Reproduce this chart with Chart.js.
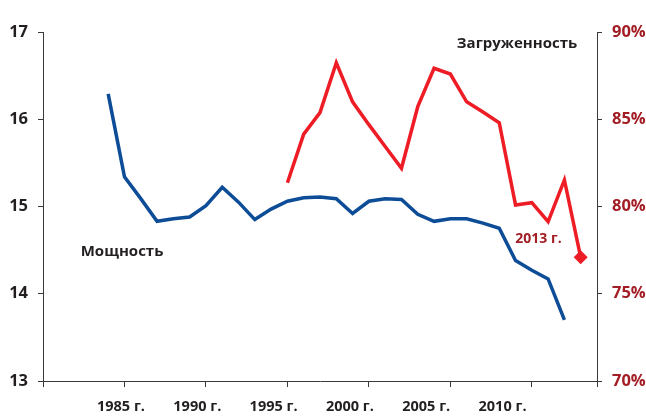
<!DOCTYPE html>
<html>
<head>
<meta charset="utf-8">
<script src="https://cdn.jsdelivr.net/npm/chart.js@4"></script>
<style>
  html, body { margin: 0; padding: 0; background: #ffffff; }
  canvas { display: block; }
</style>
</head>
<body>
<canvas id="c" width="646" height="417"></canvas>
<script>
// ---- Data ----
const powerYears = [1984,1985,1986,1987,1988,1989,1990,1991,1992,1993,1994,1995,1996,1997,1998,1999,2000,2001,2002,2003,2004,2005,2006,2007,2008,2009,2010,2011,2012];
const powerValues = [16.29,15.34,15.09,14.83,14.86,14.88,15.01,15.22,15.05,14.85,14.97,15.06,15.10,15.11,15.09,14.92,15.06,15.09,15.08,14.91,14.83,14.86,14.86,14.81,14.75,14.38,14.27,14.17,13.70];

const loadYears = [1995,1996,1997,1998,1999,2000,2001,2002,2003,2004,2005,2006,2007,2008,2009,2010,2011,2012,2013];
const loadValues = [81.36,84.15,85.38,88.24,86.0,84.69,83.44,82.19,85.72,87.92,87.59,86.0,85.42,84.8,80.09,80.22,79.13,81.52,77.09];

const tickYears = [1980,1985,1990,1995,2000,2005,2010,2014];
const labelYears = [1985,1990,1995,2000,2005,2010];
const leftTicks = [13,14,15,16,17];
const rightTicks = [70,75,80,85,90];

const seriesNames = { power: 'Мощность', load: 'Загруженность' };
const lastLabel = '2013 г.';

// ---- Styles ----
const FONT = '"Open Sans", "DejaVu Sans", sans-serif';
const DARK = '#231f20';
const DARKRED = '#a31d25';
const AXIS = '#3a3a3a';

const powerData = powerYears.map((y, i) => ({ x: y, y: powerValues[i] }));
const loadData = loadYears.map((y, i) => ({ x: y, y: loadValues[i] }));

const annotations = {
  id: 'annotations',
  afterDatasetsDraw(chart) {
    const { ctx, scales } = chart;
    ctx.save();
    ctx.textAlign = 'center';
    ctx.textBaseline = 'middle';
    ctx.font = 'bold 15px ' + FONT;
    ctx.fillStyle = DARK;
    ctx.fillText(seriesNames.load, scales.x.getPixelForValue(2009.09), scales.y2.getPixelForValue(89.35));
    ctx.fillText(seriesNames.power, scales.x.getPixelForValue(1984.85), scales.y.getPixelForValue(14.48));
    ctx.font = 'bold 14px ' + FONT;
    ctx.fillStyle = DARKRED;
    ctx.fillText(lastLabel, scales.x.getPixelForValue(2010.41), scales.y2.getPixelForValue(78.12));
    ctx.restore();
  }
};

new Chart(document.getElementById('c'), {
  type: 'line',
  data: {
    datasets: [
      {
        label: seriesNames.power,
        data: powerData,
        xAxisID: 'x',
        yAxisID: 'y',
        borderColor: '#0d4c96',
        borderWidth: 3.5,
        pointRadius: 0,
        tension: 0,
        fill: false
      },
      {
        label: seriesNames.load,
        data: loadData,
        xAxisID: 'x',
        yAxisID: 'y2',
        borderColor: '#ee1c25',
        backgroundColor: '#ee1c25',
        borderWidth: 3.5,
        pointStyle: 'rectRot',
        pointRadius: loadData.map((d, i) => i === loadData.length - 1 ? 7 : 0),
        pointBorderWidth: 0,
        tension: 0,
        fill: false
      }
    ]
  },
  options: {
    responsive: false,
    devicePixelRatio: 1,
    animation: false,
    layout: { padding: { top: 32, left: 0, right: 0, bottom: 0 } },
    plugins: { legend: { display: false }, tooltip: { enabled: false } },
    scales: {
      x: {
        type: 'linear',
        position: 'bottom',
        weight: 0,
        min: 1980,
        max: 2014,
        afterBuildTicks: s => { s.ticks = tickYears.map(v => ({ value: v })); },
        afterFit: s => { s.height = 6; },
        ticks: { display: false },
        grid: { drawOnChartArea: false, drawTicks: true, tickLength: 6, color: AXIS, lineWidth: 1 },
        border: { display: true, color: AXIS, width: 1 }
      },
      xl: {
        type: 'linear',
        position: 'bottom',
        weight: 1,
        min: 1979.89,
        max: 2016.19,
        afterBuildTicks: s => { s.ticks = labelYears.map(v => ({ value: v })); },
        afterFit: s => { s.height = 30; },
        ticks: {
          padding: 11,
          maxRotation: 0,
          autoSkip: false,
          color: DARK,
          font: { family: FONT, size: 14.5, weight: 'bold' },
          callback: v => v + ' г.'
        },
        grid: { display: false, drawTicks: false },
        border: { display: false }
      },
      y: {
        type: 'linear',
        position: 'left',
        min: 13,
        max: 17,
        afterBuildTicks: s => { s.ticks = leftTicks.map(v => ({ value: v })); },
        afterFit: s => { s.width = 43; },
        ticks: {
          padding: 10,
          color: DARK,
          font: { family: FONT, size: 16.5, weight: 'bold' }
        },
        grid: { drawOnChartArea: false, drawTicks: true, tickLength: 5, color: AXIS, lineWidth: 1 },
        border: { display: true, color: AXIS, width: 1 }
      },
      y2: {
        type: 'linear',
        position: 'right',
        min: 70,
        max: 90,
        afterBuildTicks: s => { s.ticks = rightTicks.map(v => ({ value: v })); },
        afterFit: s => { s.width = 49; },
        ticks: {
          padding: 10,
          color: DARKRED,
          font: { family: FONT, size: 16.5, weight: 'bold' },
          callback: v => v + '%'
        },
        grid: { drawOnChartArea: false, drawTicks: true, tickLength: 5, color: AXIS, lineWidth: 1 },
        border: { display: true, color: AXIS, width: 1 }
      }
    }
  },
  plugins: [annotations]
});
</script>
</body>
</html>
